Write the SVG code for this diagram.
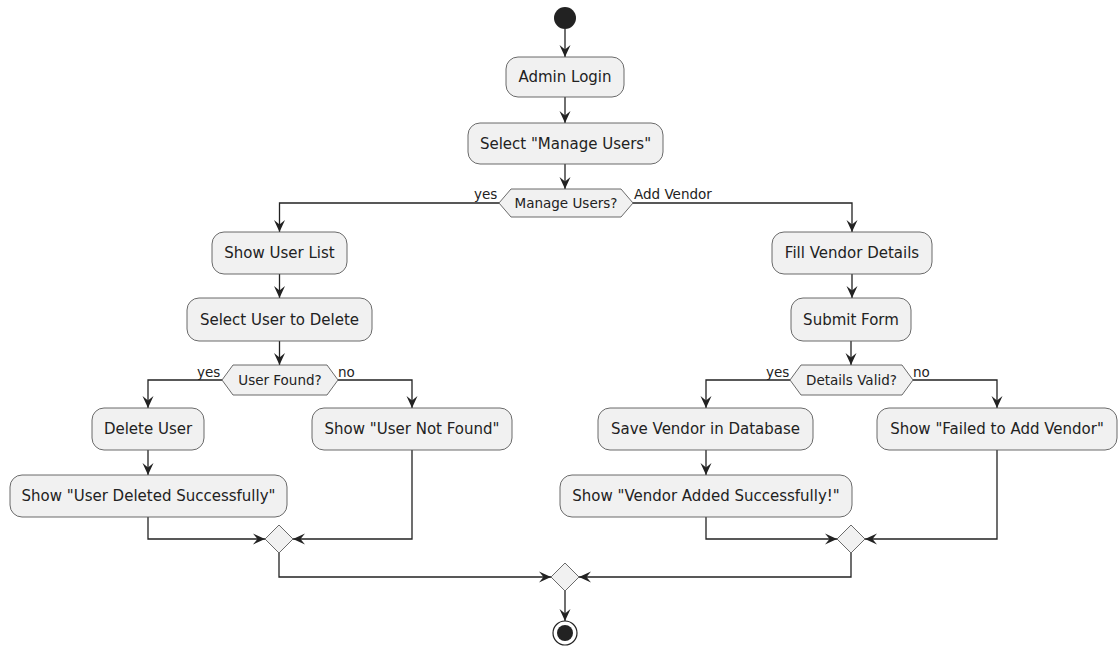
<svg xmlns="http://www.w3.org/2000/svg" width="1120" height="647" viewBox="0 0 1120 647">
  <style>
    .act { fill: #f1f1f1; stroke: #5a5a5a; stroke-width: 0.9; }
    .dec { fill: #f1f1f1; stroke: #5a5a5a; stroke-width: 0.9; }
    .txt { font-family: "DejaVu Sans", "Liberation Sans", sans-serif; font-size: 15px; fill: #222; text-anchor: middle; }
    .dtxt { font-family: "DejaVu Sans", "Liberation Sans", sans-serif; font-size: 13.5px; fill: #222; text-anchor: middle; }
    .lbl { font-family: "DejaVu Sans", "Liberation Sans", sans-serif; font-size: 13.5px; fill: #222; }
    .flow { fill: none; stroke: #222; stroke-width: 1.3; marker-end: url(#arrow); }
  </style>
  <defs>
    <marker id="arrow" viewBox="-13 -7 14 14" refX="0" refY="0" markerWidth="14" markerHeight="14" markerUnits="userSpaceOnUse" orient="auto">
      <path d="M0,0 L-12,-5.5 L-7.5,0 L-12,5.5 Z" fill="#222"/>
    </marker>
  </defs>
  <rect width="1120" height="647" fill="#ffffff"/>

  <!-- connectors -->
  <g id="connectors">
    <path class="flow" d="M565,29 V57"/>
    <path class="flow" d="M565,97 V123"/>
    <path class="flow" d="M565,164 V189"/>
    <path class="flow" d="M499,203 H279.5 V232"/>
    <path class="flow" d="M633,203 H852 V232"/>
    <path class="flow" d="M279.5,274 V298"/>
    <path class="flow" d="M852,274 V298"/>
    <path class="flow" d="M279.5,341 V365"/>
    <path class="flow" d="M851,341 V365"/>
    <path class="flow" d="M222,380 H148 V408"/>
    <path class="flow" d="M338,380 H412 V408"/>
    <path class="flow" d="M790,380 H706 V408"/>
    <path class="flow" d="M913,380 H997 V408"/>
    <path class="flow" d="M148,450 V475"/>
    <path class="flow" d="M706,450 V475"/>
    <path class="flow" d="M148,517 V539 H265"/>
    <path class="flow" d="M412,450 V539 H293"/>
    <path class="flow" d="M706,517 V539 H837"/>
    <path class="flow" d="M997,450 V539 H865"/>
    <path class="flow" d="M279,553 V577 H551"/>
    <path class="flow" d="M851,553 V577 H579"/>
    <path class="flow" d="M565,591 V621"/>
    <text class="lbl" x="474" y="199">yes</text>
    <text class="lbl" x="634" y="199">Add Vendor</text>
    <text class="lbl" x="197" y="377">yes</text>
    <text class="lbl" x="338" y="377">no</text>
    <text class="lbl" x="766" y="377">yes</text>
    <text class="lbl" x="913" y="377">no</text>
  </g>

  <!-- start -->
  <g id="start">
    <circle cx="565" cy="18" r="11" fill="#222"/>
  </g>

  <g id="admin-login">
    <rect class="act" x="506" y="57" width="118" height="40" rx="12"/>
    <text class="txt" x="565" y="82">Admin Login</text>
  </g>

  <g id="select-manage-users">
    <rect class="act" x="468" y="123" width="195" height="41" rx="12"/>
    <text class="txt" x="565.5" y="148.5">Select "Manage Users"</text>
  </g>

  <g id="manage-users-decision">
    <polygon class="dec" points="499,203 511,189 621,189 633,203 621,217 511,217"/>
    <text class="dtxt" x="566" y="208">Manage Users?</text>
  </g>

  <!-- user management branch -->
  <g id="show-user-list">
    <rect class="act" x="212" y="232" width="135" height="42" rx="12"/>
    <text class="txt" x="279.5" y="258">Show User List</text>
  </g>

  <g id="select-user-to-delete">
    <rect class="act" x="187" y="298" width="185" height="43" rx="12"/>
    <text class="txt" x="279.5" y="324.5">Select User to Delete</text>
  </g>

  <g id="user-found-decision">
    <polygon class="dec" points="222,380 233,365 327,365 338,380 327,395 233,395"/>
    <text class="dtxt" x="280" y="385">User Found?</text>
  </g>

  <g id="delete-user">
    <rect class="act" x="92" y="408" width="112" height="42" rx="12"/>
    <text class="txt" x="148" y="434">Delete User</text>
  </g>

  <g id="user-not-found">
    <rect class="act" x="312" y="408" width="200" height="42" rx="12"/>
    <text class="txt" x="412" y="434">Show "User Not Found"</text>
  </g>

  <g id="user-deleted">
    <rect class="act" x="10" y="475" width="277" height="42" rx="12"/>
    <text class="txt" x="148.5" y="501">Show "User Deleted Successfully"</text>
  </g>

  <g id="merge-users">
    <polygon class="dec" points="279,525 293,539 279,553 265,539"/>
  </g>

  <!-- vendor branch -->
  <g id="fill-vendor-details">
    <rect class="act" x="772" y="232" width="160" height="42" rx="12"/>
    <text class="txt" x="852" y="258">Fill Vendor Details</text>
  </g>

  <g id="submit-form">
    <rect class="act" x="791" y="298" width="120" height="43" rx="12"/>
    <text class="txt" x="851" y="324.5">Submit Form</text>
  </g>

  <g id="details-valid-decision">
    <polygon class="dec" points="790,380 801,365 902,365 913,380 902,395 801,395"/>
    <text class="dtxt" x="851.5" y="385">Details Valid?</text>
  </g>

  <g id="save-vendor">
    <rect class="act" x="598" y="408" width="215" height="42" rx="12"/>
    <text class="txt" x="705.5" y="434">Save Vendor in Database</text>
  </g>

  <g id="failed-add-vendor">
    <rect class="act" x="877" y="408" width="240" height="42" rx="12"/>
    <text class="txt" x="997" y="434">Show "Failed to Add Vendor"</text>
  </g>

  <g id="vendor-added">
    <rect class="act" x="560" y="475" width="292" height="42" rx="12"/>
    <text class="txt" x="706" y="501">Show "Vendor Added Successfully!"</text>
  </g>

  <g id="merge-vendor">
    <polygon class="dec" points="851,525 865,539 851,553 837,539"/>
  </g>

  <g id="merge-final">
    <polygon class="dec" points="565,563 579,577 565,591 551,577"/>
  </g>

  <!-- end -->
  <g id="end">
    <circle cx="565" cy="633" r="12" fill="none" stroke="#222" stroke-width="1.2"/>
    <circle cx="565" cy="633" r="8" fill="#222"/>
  </g>
</svg>
